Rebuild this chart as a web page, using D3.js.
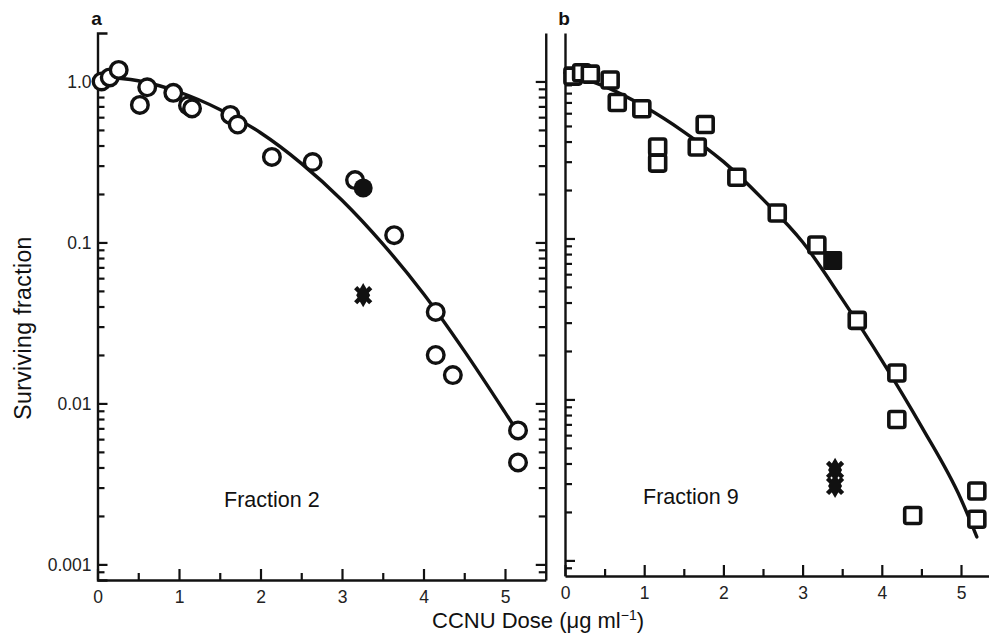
<!DOCTYPE html>
<html>
<head>
<meta charset="utf-8">
<script src="https://cdn.jsdelivr.net/npm/d3@7"></script>
<style>
  body { margin: 0; background: #fff; }
  svg { display: block; font-family: "Liberation Sans", Arial, sans-serif; }
  .tick text { fill: #222; }
</style>
</head>
<body>
<div id="chart"></div>
<script>
// ---- data ----
const doseTicks = [0, 1, 2, 3, 4, 5];
const doseMinorTicks = [0.5, 1.5, 2.5, 3.5, 4.5];
const sfMajorTicks = [0.001, 0.01, 0.1, 1];
const sfTickLabels = ["0.001", "0.01", "0.1", "1.0"];
const sfMinorMult = [2, 3, 4, 5, 6, 7, 8, 9];

// panel a : Fraction 2
const frac2OpenDose = [0.05, 0.15, 0.26, 0.52, 0.61, 0.93, 1.11, 1.16, 1.63, 1.72, 2.14, 2.64, 3.16, 3.64, 4.15, 4.15, 4.36, 5.16, 5.16];
const frac2OpenSF   = [1.0, 1.06, 1.18, 0.715, 0.92, 0.85, 0.71, 0.68, 0.62, 0.54, 0.34, 0.316, 0.244, 0.111, 0.037, 0.020, 0.015, 0.0068, 0.0043];
const frac2SolidDose = [3.26];
const frac2SolidSF   = [0.218];
const frac2CrossDose = [3.26];
const frac2CrossSF   = [0.047];
const frac2CurveDose = [0, 0.5, 1, 1.5, 2, 2.5, 3, 3.5, 4, 4.5, 5, 5.16];
const frac2CurveSF   = [1.07, 1.01, 0.86, 0.67, 0.48, 0.31, 0.183, 0.098, 0.048, 0.0212, 0.0088, 0.0066];

// panel b : Fraction 9
const frac9OpenDose = [0.10, 0.21, 0.32, 0.57, 0.66, 0.97, 1.17, 1.17, 1.77, 1.67, 2.17, 2.68, 3.18, 3.69, 4.19, 4.19, 4.39, 5.20, 5.20];
const frac9OpenSF   = [1.02, 1.07, 1.05, 0.965, 0.70, 0.64, 0.37, 0.294, 0.51, 0.37, 0.24, 0.144, 0.091, 0.031, 0.0146, 0.0075, 0.0019, 0.0027, 0.0018];
const frac9SolidDose = [3.38];
const frac9SolidSF   = [0.073];
const frac9CrossDose = [3.41, 3.41];
const frac9CrossSF   = [0.00365, 0.0029];
const frac9CurveDose = [0, 0.5, 1, 1.5, 2, 2.5, 3, 3.5, 4, 4.5, 5, 5.2];
const frac9CurveSF   = [1.07, 0.88, 0.66, 0.46, 0.30, 0.175, 0.095, 0.042, 0.0175, 0.0068, 0.0024, 0.0014];

const width = 989, height = 635;

const svg = d3.select("#chart").append("svg")
  .attr("width", width)
  .attr("height", height);

const panels = [
  {letter: "a", name: "Fraction 2", xr: [97.5, 545.75], yr: [580, 33], yMax: 2, rightBorder: true, topStub: true,
   open: [frac2OpenDose, frac2OpenSF], solid: [frac2SolidDose, frac2SolidSF], cross: [frac2CrossDose, frac2CrossSF],
   curve: [frac2CurveDose, frac2CurveSF], marker: "circle", namePos: [224, 507]},
  {letter: "b", name: "Fraction 9", xr: [565, 1000.6], yr: [576, 33], yMax: 1.89, rightBorder: false, topStub: false,
   open: [frac9OpenDose, frac9OpenSF], solid: [frac9SolidDose, frac9SolidSF], cross: [frac9CrossDose, frac9CrossSF],
   curve: [frac9CurveDose, frac9CurveSF], marker: "square", namePos: [643, 504]}
];

const sfMinorTicks = sfMajorTicks.slice(0, 3).flatMap(d => sfMinorMult.map(m => m * d)).concat([0.0009]);

function styleAxis(g) {
  g.selectAll("path.domain").attr("stroke", "#111").attr("stroke-width", 2.4);
  g.selectAll(".tick line").attr("stroke", "#111").attr("stroke-width", 2.2);
  g.selectAll(".tick text").attr("font-size", 17.5).attr("font-family", "Liberation Sans, Arial, sans-serif");
}

panels.forEach(p => {
  const x = d3.scaleLinear().domain([0, 5.5]).range(p.xr);
  const y = d3.scaleLog().domain([0.0008, p.yMax]).range(p.yr);
  const g = svg.append("g");

  // left axis, ticks pointing inward
  const left = g.append("g").attr("transform", "translate(" + p.xr[0] + ",0)");
  left.call(d3.axisLeft(y).tickValues(sfMajorTicks).tickSize(-10).tickSizeOuter(p.topStub ? -10 : 0).tickPadding(6)
    .tickFormat(p.letter === "a" ? (d, i) => sfTickLabels[i] : ""));
  left.append("g").call(d3.axisLeft(y).tickValues(sfMinorTicks).tickSize(-7).tickFormat(""))
    .call(s => s.select("path.domain").remove());
  styleAxis(left);

  if (p.rightBorder) {
    const right = g.append("g").attr("transform", "translate(" + p.xr[1] + ",0)");
    right.call(d3.axisRight(y).tickValues(sfMajorTicks).tickSize(-10).tickSizeOuter(0).tickFormat(""));
    right.append("g").call(d3.axisRight(y).tickValues(sfMinorTicks).tickSize(-7).tickFormat(""))
      .call(s => s.select("path.domain").remove());
    styleAxis(right);
  }

  // bottom axis
  const bottom = g.append("g").attr("transform", "translate(0," + p.yr[0] + ")");
  bottom.call(d3.axisBottom(x).tickValues(doseTicks).tickSize(-11).tickSizeOuter(0).tickPadding(6).tickFormat(d3.format("d")));
  bottom.append("g").call(d3.axisBottom(x).tickValues(doseMinorTicks).tickSize(-7).tickFormat(""))
    .call(s => s.select("path.domain").remove());
  styleAxis(bottom);
  bottom.selectAll(".tick text").attr("dy", "0.95em");

  // fitted curve
  const line = d3.line()
    .x(i => x(p.curve[0][i]))
    .y(i => y(p.curve[1][i]))
    .curve(d3.curveMonotoneX);
  g.append("path")
    .attr("d", line(d3.range(p.curve[0].length)))
    .attr("fill", "none")
    .attr("stroke", "#111")
    .attr("stroke-width", 3.4)
    .attr("stroke-linecap", "round");

  // open markers
  const openIdx = d3.range(p.open[0].length);
  const solidIdx = d3.range(p.solid[0].length);
  if (p.marker === "circle") {
    g.selectAll("circle.open").data(openIdx).join("circle")
      .attr("class", "open")
      .attr("cx", i => x(p.open[0][i])).attr("cy", i => y(p.open[1][i])).attr("r", 8.3)
      .attr("fill", "#fff").attr("stroke", "#111").attr("stroke-width", 3.4);
    g.selectAll("circle.solid").data(solidIdx).join("circle")
      .attr("class", "solid")
      .attr("cx", i => x(p.solid[0][i])).attr("cy", i => y(p.solid[1][i])).attr("r", 9.5)
      .attr("fill", "#111");
  } else {
    const s = 16;
    g.selectAll("rect.open").data(openIdx).join("rect")
      .attr("class", "open")
      .attr("x", i => x(p.open[0][i]) - s / 2).attr("y", i => y(p.open[1][i]) - s / 2)
      .attr("width", s).attr("height", s).attr("rx", 2)
      .attr("fill", "#fff").attr("stroke", "#111").attr("stroke-width", 3.6);
    g.selectAll("rect.solid").data(solidIdx).join("rect")
      .attr("class", "solid")
      .attr("x", i => x(p.solid[0][i]) - 9.5).attr("y", i => y(p.solid[1][i]) - 9.5)
      .attr("width", 19).attr("height", 19).attr("rx", 2)
      .attr("fill", "#111");
  }

  // crosses (drawn as dense X blobs)
  const crossIdx = d3.range(p.cross[0].length);
  const cg = g.selectAll("g.cross").data(crossIdx).join("g")
    .attr("class", "cross")
    .attr("transform", i => "translate(" + x(p.cross[0][i]) + "," + y(p.cross[1][i]) + ")");
  cg.append("path")
    .attr("d", d3.symbol(d3.symbolX, 150)())
    .attr("fill", "none").attr("stroke", "#111").attr("stroke-width", 4.5);
  cg.append("path")
    .attr("d", d3.symbol(d3.symbolDiamond, 170)())
    .attr("fill", "#111");

  // panel letter and name
  svg.append("text")
    .attr("x", p.xr[0] - 1).attr("y", 25)
    .attr("text-anchor", "middle")
    .attr("font-size", 19).attr("font-weight", "bold").attr("fill", "#111")
    .text(p.letter);
  svg.append("text")
    .attr("x", p.namePos[0]).attr("y", p.namePos[1])
    .attr("font-size", 21.5).attr("fill", "#111")
    .text(p.name);
});

// axis titles
svg.append("text")
  .attr("transform", "translate(31,328) rotate(-90)")
  .attr("text-anchor", "middle")
  .attr("font-size", 23).attr("letter-spacing", 0.4).attr("fill", "#111")
  .text("Surviving fraction");

const xt = svg.append("text")
  .attr("x", 538).attr("y", 628)
  .attr("text-anchor", "middle")
  .attr("font-size", 22).attr("fill", "#111");
xt.append("tspan").text("CCNU Dose (\u03bcg ml");
xt.append("tspan").attr("font-size", 14).attr("dy", -8).text("\u22121");
xt.append("tspan").attr("dy", 8).text(")");
</script>
</body>
</html>
